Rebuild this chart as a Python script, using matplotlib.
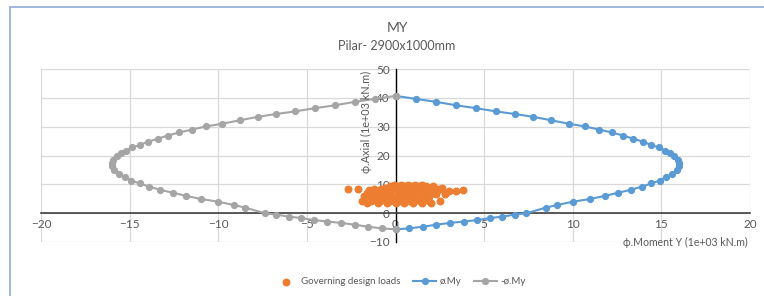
import matplotlib.pyplot as plt
from matplotlib.patches import Rectangle

plt.rcParams['font.family'] = ['Lato', 'DejaVu Sans']

# interaction curve, phi.My side (1e+03 kN.m, 1e+03 kN)
my_moment = [0.0, 1.13, 2.3, 3.43, 4.56, 5.66, 6.73, 7.77, 8.80, 9.79, 10.67, 11.48, 12.2,
             12.86, 13.42, 13.95, 14.4, 14.84, 15.21, 15.5, 15.72, 15.91, 16.02, 16.0,
             15.87, 15.59, 15.27, 14.9, 14.42, 13.9, 13.28, 12.57, 11.82, 10.97, 10.03,
             9.09, 8.47, 7.39, 6.73, 6.03, 5.32, 4.6, 3.85, 3.05, 2.3, 1.54, 0.75, 0.0]
my_axial = [40.7, 39.65, 38.6, 37.4, 36.4, 35.3, 34.4, 33.4, 32.2, 31.0, 30.1, 29.0, 28.0,
            26.9, 25.8, 24.8, 23.7, 22.8, 21.7, 20.8, 19.7, 18.5, 17.4, 16.2,
            15.0, 13.6, 12.5, 11.3, 10.3, 9.2, 8.1, 7.1, 6.0, 4.9, 4.0,
            2.8, 1.9, 0.0, -0.5, -1.2, -1.7, -2.4, -2.9, -3.4, -4.0, -4.7, -5.3, -5.6]

# mirrored side (-phi.My)
neg_moment = [-v for v in my_moment]
neg_axial = list(my_axial)

# governing design loads
load_rows = {
    9.8: [-0.1, 0.3, 0.7, 1.1, 1.5],
    9.3: [-0.3, 0.1, 0.5, 0.9, 1.3, 1.7, 2.1],
    8.8: [-0.6, -0.2, 0.2, 0.6, 1.0, 1.4, 1.8, 2.2, 2.6],
    8.4: [-2.7, -2.1, -1.2, -0.8, 0.0, 0.8, 1.6, 2.4],
    8.0: [-1.5, -0.5, 0.4, 1.2, 2.0, 2.4, 3.8],
    7.6: [-1.0, -0.3, 0.5, 1.3, 2.0, 3.0, 3.4],
    7.1: [-1.6, -0.6, 0.2, 0.9, 1.7, 2.2],
    6.6: [-1.3, -0.4, 0.4, 1.1, 2.3, 2.8],
    6.0: [-1.8, -1.0, -0.2, 0.6, 1.4, 1.9],
    5.4: [-1.5, -0.7, 0.1, 0.9, 1.6],
    4.8: [-1.2, -0.4, 0.3, 1.0],
    4.1: [-1.9, -1.4, -0.9, -0.3, 0.2, 0.8, 1.4, 1.9, 2.5],
    3.6: [-1.6, -1.0, -0.5, 0.0, 0.5, 1.0, 1.5, 2.0],
}
load_moment = [x for y, xs in load_rows.items() for x in xs]
load_axial = [y for y, xs in load_rows.items() for x in xs]

x_ticks = [-20, -15, -10, -5, 0, 5, 10, 15, 20]
y_ticks = [-10, 0, 10, 20, 30, 40, 50]

TXT = "#595959"

fig = plt.figure(figsize=(7.64, 2.96), dpi=100)
fig.patches.append(Rectangle((10 / 764, -0.1), 1.2, 1 - 7 / 296 + 0.1, transform=fig.transFigure,
                             fill=False, edgecolor="#8faadc", linewidth=1.2))
ax = fig.add_axes([41 / 764, 1 - 242 / 296, 709 / 764, 173 / 296])

ax.scatter(load_moment, load_axial, s=22, color="#ED7D31", zorder=3, label="Governing design loads")
ax.plot(my_moment, my_axial, color="#5B9BD5", lw=1.5, marker="o", ms=4.2, zorder=3, label="ø.My")
ax.plot(neg_moment, neg_axial, color="#A5A5A5", lw=1.5, marker="o", ms=4.2, zorder=3, label="-ø.My")

ax.set_xlim(-20, 20)
ax.set_ylim(-10, 50)
ax.set_xticks(x_ticks)
ax.set_yticks(y_ticks)
ax.grid(True, color="#D9D9D9", lw=0.9)
ax.set_axisbelow(True)
for s in ("top", "right"):
    ax.spines[s].set_visible(False)
ax.spines["left"].set_position("zero")
ax.spines["bottom"].set_position("zero")
ax.spines["left"].set_color("#000000")
ax.spines["bottom"].set_color("#404040")
ax.spines["left"].set_linewidth(1.0)
ax.spines["bottom"].set_linewidth(1.2)
ax.tick_params(length=0, labelsize=8.5, labelcolor=TXT, pad=4)

ax.text(-1.65, 31.5, "ϕ.Axial (1e+03 kN.m)", rotation=90, ha="center", va="center",
        fontsize=7.8, color=TXT)
ax.text(19.9, -10.2, "ϕ.Moment Y (1e+03 kN.m)", ha="right", va="center",
        fontsize=7.6, color=TXT)

fig.text(397 / 764, 1 - 28 / 296, "MY", ha="center", va="center", fontsize=10, color=TXT)
fig.text(397 / 764, 1 - 46 / 296, "Pilar- 2900x1000mm", ha="center", va="center", fontsize=9, color=TXT)

fig.legend(loc="center", bbox_to_anchor=(400 / 764, 1 - 282 / 296), ncol=3, frameon=False,
           fontsize=7, labelcolor=TXT, handlelength=2.4, columnspacing=1.3, handletextpad=0.3)

fig.savefig("out.png", dpi=100)
